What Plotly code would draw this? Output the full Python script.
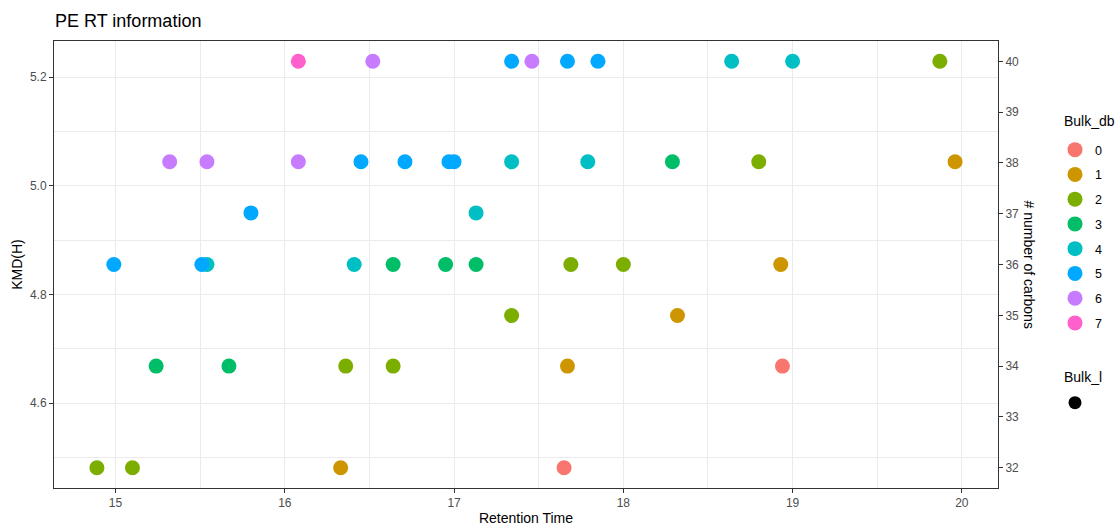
import plotly.graph_objects as go

# Retention time, carbon count and double-bond count of each PE species
rt = [16.08, 16.52, 17.34, 17.46, 17.67, 17.85, 18.64, 19.00, 19.87,
      15.32, 15.54, 16.08, 16.45, 16.71, 16.97, 17.00, 17.34, 17.79, 18.29, 18.80, 19.96,
      15.80, 17.13,
      14.99, 15.51, 15.54, 16.41, 16.64, 16.95, 17.13, 17.69, 18.00, 18.93,
      17.34, 18.32,
      15.24, 15.67, 16.36, 16.64, 17.67, 18.94,
      14.89, 15.10, 16.33, 17.65]
carbons = [40, 40, 40, 40, 40, 40, 40, 40, 40,
           38, 38, 38, 38, 38, 38, 38, 38, 38, 38, 38, 38,
           37, 37,
           36, 36, 36, 36, 36, 36, 36, 36, 36, 36,
           35, 35,
           34, 34, 34, 34, 34, 34,
           32, 32, 32, 32]
bulk_db = [7, 6, 5, 6, 5, 5, 4, 4, 2,
           6, 6, 6, 5, 5, 5, 5, 4, 4, 3, 2, 1,
           5, 4,
           5, 5, 4, 4, 3, 3, 3, 2, 2, 1,
           2, 1,
           3, 3, 2, 2, 1, 0,
           2, 2, 1, 0]

# Kendrick mass defect (H) for each carbon number present
carbon_levels = [32, 34, 35, 36, 37, 38, 40]
kmd_levels = [4.481, 4.668, 4.761, 4.855, 4.950, 5.044, 5.229]

db_levels = [0, 1, 2, 3, 4, 5, 6, 7]
db_colors = ["#F8766D", "#CD9600", "#7CAE00", "#00BE67",
             "#00BFC4", "#00A9FF", "#C77CFF", "#FF61CC"]

kmd_of = dict(zip(carbon_levels, kmd_levels))
kmd = [kmd_of[c] for c in carbons]

fig = go.Figure()
for db, col in zip(db_levels, db_colors):
    idx = [i for i, d in enumerate(bulk_db) if d == db]
    fig.add_trace(go.Scatter(
        x=[rt[i] for i in idx], y=[kmd[i] for i in idx],
        mode="markers", name=str(db), legendgroup=str(db),
        marker=dict(color=col, size=15, line=dict(width=0)),
        legend="legend",
    ))

# Bulk_l legend key
fig.add_trace(go.Scatter(
    x=[None], y=[None], mode="markers", name=" ",
    marker=dict(color="black", size=13), legend="legend2",
))

# Axis ranges with ggplot-style 5% expansion
xmin, xmax = min(rt), max(rt)
xpad = (xmax - xmin) * 0.05
ymin, ymax = min(kmd_levels), max(kmd_levels)
ypad = (ymax - ymin) * 0.05
y_range = [ymin - ypad, ymax + ypad]

# Linear map KMD -> carbon number for the secondary axis
c0, c1 = carbon_levels[0], carbon_levels[-1]
k0, k1 = kmd_levels[0], kmd_levels[-1]
to_c = lambda k: c0 + (k - k0) * (c1 - c0) / (k1 - k0)
y2_range = [to_c(y_range[0]), to_c(y_range[1])]

fig.add_trace(go.Scatter(x=[None], y=[None], yaxis="y2", showlegend=False,
                         mode="markers"))

FONT = "Liberation Sans, Arial, sans-serif"
tick_font = dict(family=FONT, size=12, color="#4D4D4D")
grid = "#EBEBEB"
axis_common = dict(showline=True, linecolor="#333333", linewidth=1,
                   ticks="outside", ticklen=4, tickcolor="#333333",
                   tickfont=tick_font, gridcolor=grid, gridwidth=1, zeroline=False,
                   automargin=False)

fig.update_layout(
    width=1120, height=526,
    margin=dict(l=54, r=122, t=41, b=38),
    paper_bgcolor="white", plot_bgcolor="white",
    font=dict(family=FONT, color="black"),
    title=dict(text="PE RT information", x=55 / 1120, xanchor="left", xref="container",
               y=1 - 21 / 526, yanchor="middle", yref="container",
               font=dict(size=18, color="black")),
    xaxis=dict(range=[xmin - xpad, xmax + xpad], dtick=1, tick0=15,
               mirror=True,
               minor=dict(dtick=0.5, tick0=14.5, showgrid=True, gridcolor=grid, gridwidth=0.6),
               title=dict(text="Retention Time", font=dict(size=14), standoff=4),
               **axis_common),
    yaxis=dict(range=y_range, dtick=0.2, tick0=4.6, tickformat=".1f",
               minor=dict(dtick=0.1, tick0=4.5, showgrid=True, gridcolor=grid, gridwidth=0.6),
               title=dict(text="KMD(H)", font=dict(size=14), standoff=4),
               **axis_common),
    yaxis2=dict(range=y2_range, overlaying="y", side="right", tickvals=list(range(32, 41)),
                showgrid=False, showline=True, linecolor="#333333", linewidth=1,
                ticks="outside", ticklen=4, tickcolor="#333333", tickfont=tick_font,
                zeroline=False, automargin=False),
    legend=dict(xref="container", yref="container", x=1055 / 1120, y=1 - 135 / 526,
                xanchor="left", yanchor="top", font=dict(family=FONT, size=12.5),
                tracegroupgap=5.5, traceorder="grouped", itemclick=False),
    legend2=dict(xref="container", yref="container", x=1055 / 1120, y=1 - 388 / 526,
                 xanchor="left", yanchor="top", font=dict(family=FONT, size=12.5)),
    annotations=[
        dict(text="# number of carbons", textangle=90, showarrow=False,
             xref="paper", yref="paper", x=1.0, xshift=31, y=0.5,
             xanchor="center", yanchor="middle", font=dict(size=14)),
        dict(text="Bulk_db", showarrow=False, xref="paper", yref="paper",
             x=1.0, xshift=1062 - 998, y=1.0, yshift=41 - 121,
             xanchor="left", yanchor="middle", font=dict(size=14)),
        dict(text="Bulk_l", showarrow=False, xref="paper", yref="paper",
             x=1.0, xshift=1062 - 998, y=1.0, yshift=41 - 377,
             xanchor="left", yanchor="middle", font=dict(size=14)),
    ],
)

fig.write_html("out.html")
